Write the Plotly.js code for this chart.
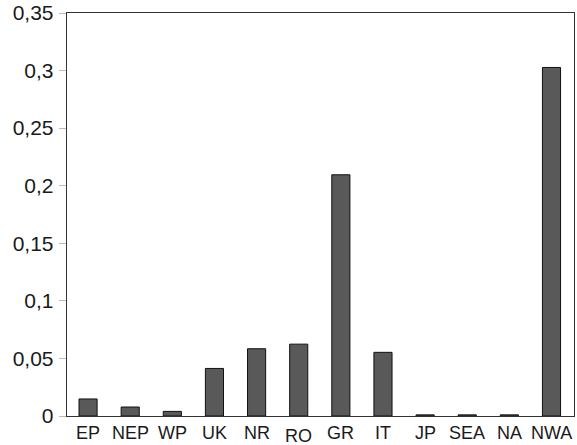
<!DOCTYPE html>
<html>
<head>
<meta charset="utf-8">
<script src="https://cdn.plot.ly/plotly-3.0.1.min.js"></script>
<style>html,body{margin:0;padding:0;background:#fff;}#chart{width:577px;height:445px;}</style>
</head>
<body>
<div id="chart"></div>
<script>
const categories = ["EP","NEP","WP","UK","NR","RO","GR","IT","JP","SEA","NA","NWA"];
const values = [0.0148, 0.0078, 0.004, 0.0413, 0.0584, 0.0624, 0.2095, 0.0553, 0.001, 0.001, 0.001, 0.3027];
const yTickVals = [0, 0.05, 0.1, 0.15, 0.2, 0.25, 0.3, 0.35];
const labelDrop = {"RO": 3};

const annotations = categories.map(c => ({
  x: c, xref: 'x', y: 0, yref: 'paper',
  text: c, showarrow: false, yanchor: 'middle', xanchor: 'center',
  yshift: -17 - (labelDrop[c] || 0),
  font: {family: 'Liberation Sans, Arial, sans-serif', size: 18, color: '#1a1a1a'}
}));

const data = [{
  type: 'bar', x: categories, y: values,
  marker: {color: '#595959', line: {color: '#111', width: 1}},
  hoverinfo: 'none'
}];

const layout = {
  width: 577, height: 445,
  margin: {l: 67, r: 3, t: 13, b: 29, pad: 0},
  paper_bgcolor: '#fff', plot_bgcolor: '#fff',
  separators: ', ',
  bargap: 0.57,
  showlegend: false,
  font: {family: 'Liberation Sans, Arial, sans-serif', color: '#1a1a1a'},
  xaxis: {
    type: 'category', showticklabels: false, ticks: '', showgrid: false, zeroline: false,
    showline: true, mirror: true, linecolor: '#333', linewidth: 1.3
  },
  yaxis: {
    range: [0, 0.35], tickmode: 'array', tickvals: yTickVals,
    ticks: 'outside', ticklen: 7, tickcolor: '#bbb', tickwidth: 1,
    showgrid: false, zeroline: false,
    showline: true, mirror: true, linecolor: '#333', linewidth: 1.3,
    tickfont: {size: 21, color: '#1a1a1a'}, ticklabelstandoff: 1
  },
  annotations: annotations
};

Plotly.newPlot('chart', data, layout, {displayModeBar: false, staticPlot: true});
</script>
</body>
</html>
